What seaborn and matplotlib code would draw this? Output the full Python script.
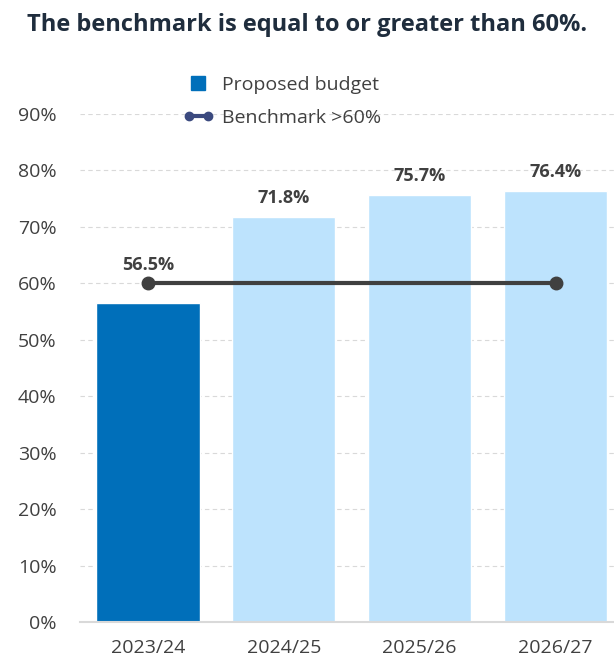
import numpy as np
import pandas as pd
import matplotlib
matplotlib.use("Agg")
import matplotlib.pyplot as plt
import seaborn as sns
from matplotlib.lines import Line2D
from matplotlib.legend_handler import HandlerLine2D

# data
years = ["2023/24", "2024/25", "2025/26", "2026/27"]
budget = [0.565, 0.718, 0.757, 0.764]
benchmark = [0.60, 0.60, 0.60, 0.60]
bar_colors = ["#006fba", "#bde3fd", "#bde3fd", "#bde3fd"]

sns.set_theme(style="white")
plt.rcParams["font.family"] = ["Open Sans", "DejaVu Sans"]

df = pd.DataFrame({"year": years, "budget": budget, "benchmark": benchmark})

fig = plt.figure(figsize=(6.14, 6.64), dpi=100)
ax = fig.add_axes([80 / 614, 1 - 622 / 664, 1 - 80 / 614, (622 - 114) / 664])

sns.barplot(data=df, x="year", y="budget", hue="year", palette=bar_colors,
            width=0.76, legend=False, ax=ax, saturation=1)
ax.plot(range(len(years)), df["benchmark"], color="#404040", lw=3,
        marker="o", ms=9, markevery=[0, len(years) - 1], zorder=3, clip_on=False)

for i, v in enumerate(budget):
    top = benchmark[i] if v < benchmark[i] else v
    ax.annotate(f"{v*100:.1f}%", (i, top), xytext=(0, 7), textcoords="offset points",
                ha="center", va="bottom", fontsize=13, fontweight="bold", color="#404040")

ax.set_xlim(-0.5, 3.43)
ax.set_ylim(0, 0.9)
ax.set_yticks(np.arange(0, 0.91, 0.1))
ax.set_yticklabels([f"{int(round(t*100))}%" for t in np.arange(0, 0.91, 0.1)])
ax.yaxis.grid(True, color="#d9d9d9", ls=(0, (4, 3)), lw=0.8)
ax.set_axisbelow(True)
ax.set_xlabel("")
ax.set_ylabel("")
for s in ["top", "right", "left"]:
    ax.spines[s].set_visible(False)
ax.spines["bottom"].set_color("#d9d9d9")
ax.spines["bottom"].set_linewidth(1.5)
ax.tick_params(axis="both", length=0, labelsize=14, labelcolor="#404040")
ax.tick_params(axis="x", pad=12)
ax.tick_params(axis="y", pad=17)

h_budget = Line2D([], [], color="#006fba", ls="none", marker="s", ms=10, label="Proposed budget")
h_bench = Line2D([], [], color="#3b4a7f", lw=3, marker="o", ms=6, label="Benchmark >60%")
leg = ax.legend(handles=[h_budget, h_bench], loc="center left",
                bbox_to_anchor=(95 / 534, 1.025), frameon=False, fontsize=14,
                handlelength=1.6, labelspacing=0.75, borderaxespad=0, handletextpad=0.4,
                handler_map={h_budget: HandlerLine2D(numpoints=1),
                             h_bench: HandlerLine2D(numpoints=2)})
for t in leg.get_texts():
    t.set_color("#404040")

fig.text(0.5, 1 - 25 / 664, "The benchmark is equal to or greater than 60%.",
         ha="center", va="center", fontsize=17, fontweight="bold", color="#1f2d3d")

fig.savefig("out.png", dpi=100)
